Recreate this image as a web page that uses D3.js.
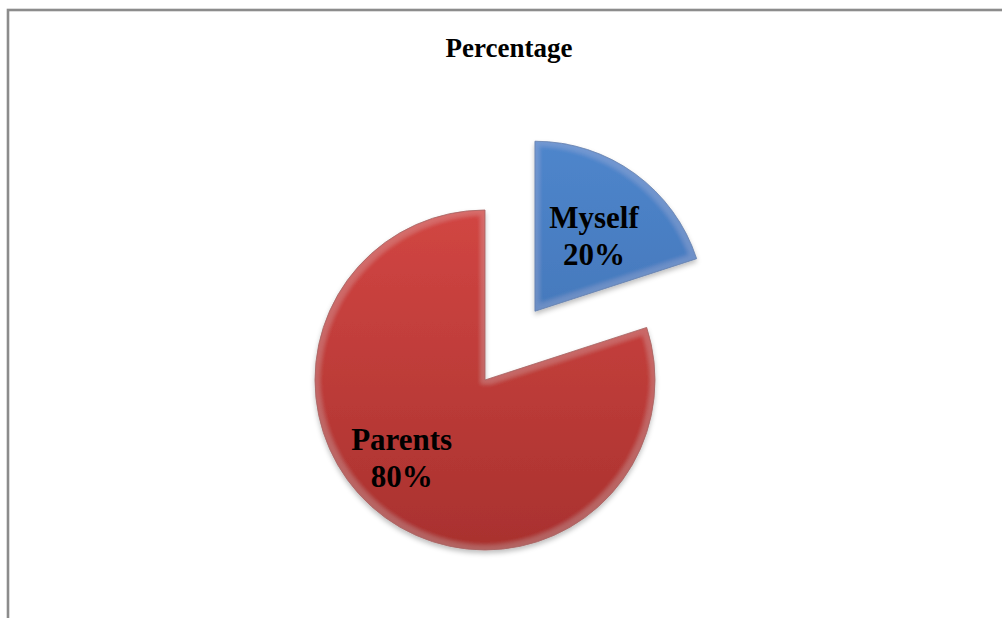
<!DOCTYPE html>
<html>
<head>
<meta charset="utf-8">
<script src="https://cdn.jsdelivr.net/npm/d3@7"></script>
<style>
  html, body { margin: 0; padding: 0; background: #fff; }
  svg { display: block; }
  .serif { font-family: "Times New Roman", Times, "Liberation Serif", serif; font-weight: bold; }
</style>
</head>
<body>
<svg id="chart" width="1002" height="618"></svg>
<script>
// Who pays: share of respondents
const categories = ["Myself", "Parents"];
const values = [20, 80];
const valueLabels = ["20%", "80%"];
const chartTitle = "Percentage";

// Slice styling (kept apart from the data)
const sliceTop = ["#4f86cc", "#d24643"];
const sliceBottom = ["#3b6cad", "#a8312e"];
const sliceEdge = ["#36649f", "#97302d"];
const explode = [85, 0];          // pull-out distance per slice
const labelNudge = [2, 11];       // degrees, label angle tweak per slice
const labelDist = [96, 114];

const svg = d3.select("#chart");
const defs = svg.append("defs");

// Chart frame (runs off the right and bottom of the view)
svg.append("rect")
  .attr("x", 8).attr("y", 10)
  .attr("width", 1004).attr("height", 620)
  .attr("fill", "#fff")
  .attr("stroke", "#8c8c8c")
  .attr("stroke-width", 2.6);

svg.append("text")
  .attr("class", "serif")
  .attr("x", 509).attr("y", 57)
  .attr("text-anchor", "middle")
  .attr("font-size", 27)
  .attr("fill", "#000")
  .text(chartTitle);

// Gradients per slice
categories.forEach((c, i) => {
  const g = defs.append("linearGradient")
    .attr("id", "grad" + i)
    .attr("gradientUnits", "userSpaceOnUse")
    .attr("x1", 0).attr("y1", -175).attr("x2", 0).attr("y2", 175);
  g.append("stop").attr("offset", "0%").attr("stop-color", sliceTop[i]);
  g.append("stop").attr("offset", "100%").attr("stop-color", sliceBottom[i]);
});

// Soft bevel: light rim inside each edge, plus a drop shadow beneath
const f = defs.append("filter").attr("id", "bevel")
  .attr("x", "-20%").attr("y", "-20%").attr("width", "140%").attr("height", "140%");
f.append("feMorphology").attr("in", "SourceAlpha").attr("operator", "erode")
  .attr("radius", 5).attr("result", "er");
f.append("feGaussianBlur").attr("in", "er").attr("stdDeviation", 2).attr("result", "erb");
f.append("feComposite").attr("in", "SourceAlpha").attr("in2", "erb")
  .attr("operator", "out").attr("result", "rim");
f.append("feFlood").attr("flood-color", "#ffffff").attr("flood-opacity", 0.1).attr("result", "white");
f.append("feComposite").attr("in", "white").attr("in2", "rim").attr("operator", "in").attr("result", "rimLight");
f.append("feGaussianBlur").attr("in", "SourceAlpha").attr("stdDeviation", 2.5).attr("result", "sb");
f.append("feOffset").attr("in", "sb").attr("dx", 0).attr("dy", 3).attr("result", "so");
f.append("feFlood").attr("flood-color", "#000").attr("flood-opacity", 0.25).attr("result", "sc");
f.append("feComposite").attr("in", "sc").attr("in2", "so").attr("operator", "in").attr("result", "shadow");
const m = f.append("feMerge");
m.append("feMergeNode").attr("in", "shadow");
m.append("feMergeNode").attr("in", "SourceGraphic");
m.append("feMergeNode").attr("in", "rimLight");

const cx = 485, cy = 380, R = 170;
const pie = d3.pie().sort(null).value(d => d)(values);
const arc = d3.arc().innerRadius(0).outerRadius(R);

const g = svg.append("g").attr("transform", `translate(${cx},${cy})`);

const slices = g.selectAll("g.slice").data(pie).join("g")
  .attr("class", "slice")
  .attr("transform", (d, i) => {
    const a = (d.startAngle + d.endAngle) / 2;
    return `translate(${Math.sin(a) * explode[i]},${-Math.cos(a) * explode[i]})`;
  });

slices.append("path")
  .attr("d", arc)
  .attr("fill", (d, i) => `url(#grad${i})`)
  .attr("stroke", (d, i) => sliceEdge[i])
  .attr("stroke-width", 0.8)
  .attr("filter", "url(#bevel)");

slices.each(function (d, i) {
  const a = (d.startAngle + d.endAngle) / 2 + labelNudge[i] * Math.PI / 180;
  const lx = Math.sin(a) * labelDist[i];
  const ly = -Math.cos(a) * labelDist[i];
  const t = d3.select(this).append("text")
    .attr("class", "serif")
    .attr("text-anchor", "middle")
    .attr("font-size", 31)
    .attr("fill", "#000");
  t.append("tspan").attr("x", lx).attr("y", ly - 8).text(categories[i]);
  t.append("tspan").attr("x", lx).attr("y", ly + 29).text(valueLabels[i]);
});
</script>
</body>
</html>
